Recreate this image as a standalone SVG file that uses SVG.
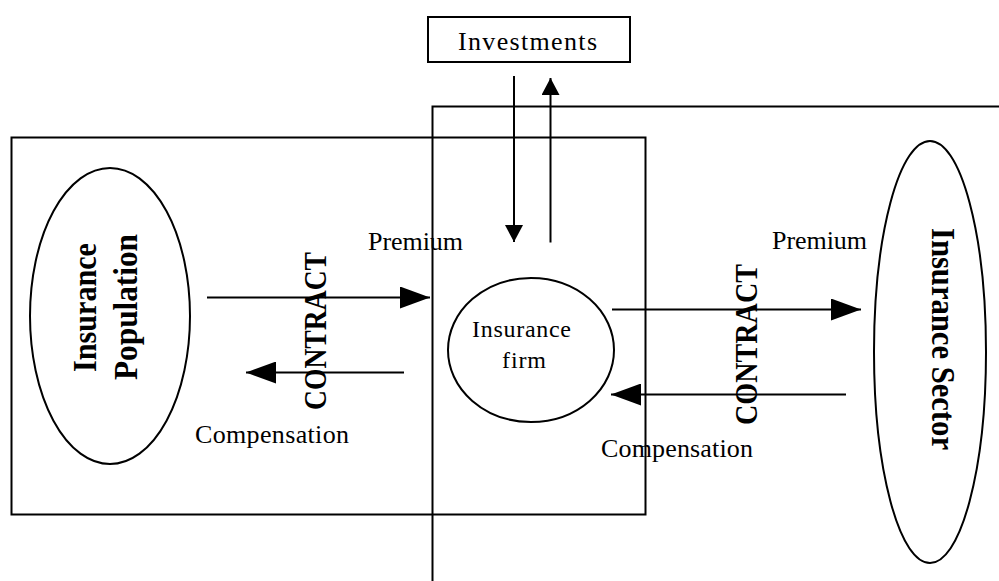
<svg xmlns="http://www.w3.org/2000/svg" width="999" height="581" viewBox="0 0 999 581">
  <style>
    .ln { stroke: #000; stroke-width: 2; fill: none; }
    .t { font-family: "Liberation Serif", "Times New Roman", serif; font-size: 26px; fill: #000; }
    .b { font-family: "Liberation Serif", "Times New Roman", serif; font-weight: bold; fill: #000; }
  </style>
  <defs>
    <marker id="ah" markerUnits="userSpaceOnUse" markerWidth="30" markerHeight="22" refX="30" refY="11" orient="auto">
      <path d="M0,0 L30,11 L0,22 Z" fill="#000"/>
    </marker>
    <marker id="av" markerUnits="userSpaceOnUse" markerWidth="17" markerHeight="18" refX="17" refY="9" orient="auto">
      <path d="M0,0 L17,9 L0,18 Z" fill="#000"/>
    </marker>
  </defs>
  <rect width="999" height="581" fill="#fff"/>

  <g id="left-region">
    <rect class="ln" x="11.5" y="137.5" width="634" height="377"/>
  </g>
  <g id="right-region">
    <path class="ln" d="M999,106.5 H432.5 V581"/>
  </g>

  <g id="investments">
    <rect class="ln" x="428" y="17" width="202" height="45"/>
    <text class="t" x="458" y="50" textLength="139" lengthAdjust="spacing">Investments</text>
  </g>

  <g id="population">
    <ellipse class="ln" cx="110" cy="316" rx="80" ry="148"/>
    <text class="b" font-size="33" transform="translate(96,372) rotate(-90)" textLength="129" lengthAdjust="spacingAndGlyphs">Insurance</text>
    <text class="b" font-size="33" transform="translate(137,380) rotate(-90)" textLength="146" lengthAdjust="spacingAndGlyphs">Population</text>
  </g>

  <g id="firm">
    <ellipse class="ln" cx="531" cy="350" rx="83" ry="72"/>
    <text class="t" style="font-size:24px" x="472" y="337" textLength="99" lengthAdjust="spacing">Insurance</text>
    <text class="t" style="font-size:24px" x="502" y="368" textLength="44" lengthAdjust="spacing">firm</text>
  </g>

  <g id="sector">
    <ellipse class="ln" cx="930" cy="352" rx="56" ry="211"/>
    <text class="b" font-size="33" transform="translate(932,228) rotate(90)" textLength="222" lengthAdjust="spacingAndGlyphs">Insurance Sector</text>
  </g>

  <g id="connectors">
    <line class="ln" x1="514" y1="76" x2="514" y2="242" marker-end="url(#av)"/>
    <line class="ln" x1="550.5" y1="242.5" x2="550.5" y2="78" marker-end="url(#av)"/>
    <line class="ln" x1="207" y1="297.5" x2="430" y2="297.5" marker-end="url(#ah)"/>
    <line class="ln" x1="404" y1="372.5" x2="246" y2="372.5" marker-end="url(#ah)"/>
    <line class="ln" x1="612" y1="309.5" x2="861" y2="309.5" marker-end="url(#ah)"/>
    <line class="ln" x1="846" y1="394.5" x2="611" y2="394.5" marker-end="url(#ah)"/>
  </g>

  <g id="labels">
    <text class="t" x="368" y="250" textLength="95" lengthAdjust="spacing">Premium</text>
    <text class="t" x="772" y="249" textLength="95" lengthAdjust="spacing">Premium</text>
    <text class="t" x="195" y="443" textLength="154" lengthAdjust="spacing">Compensation</text>
    <text class="t" x="601" y="457" textLength="152" lengthAdjust="spacing">Compensation</text>
    <text class="b" font-size="31" transform="translate(326,410) rotate(-90)" textLength="158" lengthAdjust="spacingAndGlyphs">CONTRACT</text>
    <text class="b" font-size="31" transform="translate(757,425) rotate(-90)" textLength="161" lengthAdjust="spacingAndGlyphs">CONTRACT</text>
  </g>
</svg>
